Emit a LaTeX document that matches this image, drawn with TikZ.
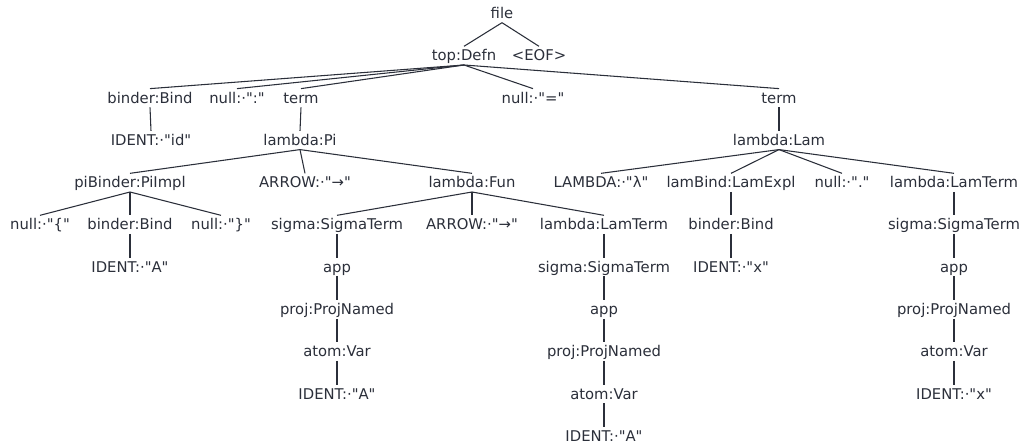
\documentclass[tikz,border=0pt]{standalone}
\usepackage{fontspec}
\setmainfont{DejaVu Sans}[Ligatures=TeXOff]
\usepackage{xcolor}
\usepackage{tikz}
\definecolor{ink}{HTML}{2B2F3A}

\begin{document}
\begin{tikzpicture}[x=0.75pt,y=-0.75pt,color=ink,line width=0.8pt,
        every node/.style={anchor=base,inner xsep=0pt,inner ysep=2.6pt,text height=8pt,text depth=0pt,font=\fontsize{11.1}{13}\selectfont}]
        \useasboundingbox (0,0) rectangle (1024,448);

        % Racine
        \node (file) at (502,18.7) {file};
        \node (top) at (464,61) {top:Defn};
        \node (eof) at (539,61) {<EOF>};

        % Niveau 2
        \node (bind) at (150,103.3) {binder:Bind};
        \node (colon) at (237,103.3) {null:·":"};
        \node (termL) at (301,103.3) {term};
        \node (equal) at (533,103.3) {null:·"="};
        \node (termR) at (779,103.3) {term};

        % Niveau 3
        \node (idId) at (151,145.6) {IDENT:·"id"};
        \node (pi) at (300,145.6) {lambda:Pi};
        \node (lam) at (779,145.6) {lambda:Lam};

        % Niveau 4
        \node (piBind) at (130,188) {piBinder:PiImpl};
        \node (arrowA) at (305,188) {ARROW:·"→"};
        \node (fun) at (472,188) {lambda:Fun};
        \node (lambdaTok) at (601,188) {LAMBDA:·"λ"};
        \node (lamBind) at (731,188) {lamBind:LamExpl};
        \node (dot) at (842,188) {null:·"."};
        \node (lamTermR) at (954,188) {lambda:LamTerm};

        % Niveau 5
        \node (lbrace) at (40,230) {null:·"\{"};
        \node (bindA) at (130,230) {binder:Bind};
        \node (rbrace) at (221,230) {null:·"\}"};
        \node (sigmaL) at (337,230) {sigma:SigmaTerm};
        \node (arrowB) at (472,230) {ARROW:·"→"};
        \node (lamTermM) at (604,230) {lambda:LamTerm};
        \node (bindX) at (731,230) {binder:Bind};
        \node (sigmaR) at (954,230) {sigma:SigmaTerm};

        % Niveau 6
        \node (idA) at (130,272.5) {IDENT:·"A"};
        \node (appL) at (337,272.5) {app};
        \node (sigmaM) at (604,272.5) {sigma:SigmaTerm};
        \node (idX) at (731,272.5) {IDENT:·"x"};
        \node (appR) at (954,272.5) {app};

        % Chaines
        \node (projL) at (337,314.8) {proj:ProjNamed};
        \node (appM) at (604,314.8) {app};
        \node (projR) at (954,314.8) {proj:ProjNamed};
        \node (atomL) at (337,357) {atom:Var};
        \node (projM) at (604,357) {proj:ProjNamed};
        \node (atomR) at (954,357) {atom:Var};
        \node (idAL) at (337,399.5) {IDENT:·"A"};
        \node (atomM) at (604,399.5) {atom:Var};
        \node (idXR) at (954,399.5) {IDENT:·"x"};
        \node (idAM) at (604,441.8) {IDENT:·"A"};

        % Aretes
        \draw[-](file.south) -- (top.north);
        \draw[-](file.south) -- (eof.north);
        \draw[-](top.south) -- (bind.north);
        \draw[-](top.south) -- (colon.north);
        \draw[-](top.south) -- (termL.north);
        \draw[-](top.south) -- (equal.north);
        \draw[-](top.south) -- (termR.north);
        \draw[-](bind.south) -- (idId.north);
        \draw[-](termL.south) -- (pi.north);
        \draw[-](termR.south) -- (lam.north);
        \draw[-](pi.south) -- (piBind.north);
        \draw[-](pi.south) -- (arrowA.north);
        \draw[-](pi.south) -- (fun.north);
        \draw[-](lam.south) -- (lambdaTok.north);
        \draw[-](lam.south) -- (lamBind.north);
        \draw[-](lam.south) -- (dot.north);
        \draw[-](lam.south) -- (lamTermR.north);
        \draw[-](piBind.south) -- (lbrace.north);
        \draw[-](piBind.south) -- (bindA.north);
        \draw[-](piBind.south) -- (rbrace.north);
        \draw[-](fun.south) -- (sigmaL.north);
        \draw[-](fun.south) -- (arrowB.north);
        \draw[-](fun.south) -- (lamTermM.north);
        \draw[-](lamBind.south) -- (bindX.north);
        \draw[-](lamTermR.south) -- (sigmaR.north);
        \draw[-](bindA.south) -- (idA.north);
        \draw[-](sigmaL.south) -- (appL.north);
        \draw[-](lamTermM.south) -- (sigmaM.north);
        \draw[-](bindX.south) -- (idX.north);
        \draw[-](sigmaR.south) -- (appR.north);
        \draw[-](appL.south) -- (projL.north);
        \draw[-](sigmaM.south) -- (appM.north);
        \draw[-](appR.south) -- (projR.north);
        \draw[-](projL.south) -- (atomL.north);
        \draw[-](appM.south) -- (projM.north);
        \draw[-](projR.south) -- (atomR.north);
        \draw[-](atomL.south) -- (idAL.north);
        \draw[-](projM.south) -- (atomM.north);
        \draw[-](atomR.south) -- (idXR.north);
        \draw[-](atomM.south) -- (idAM.north);
    \end{tikzpicture}
\end{document}
